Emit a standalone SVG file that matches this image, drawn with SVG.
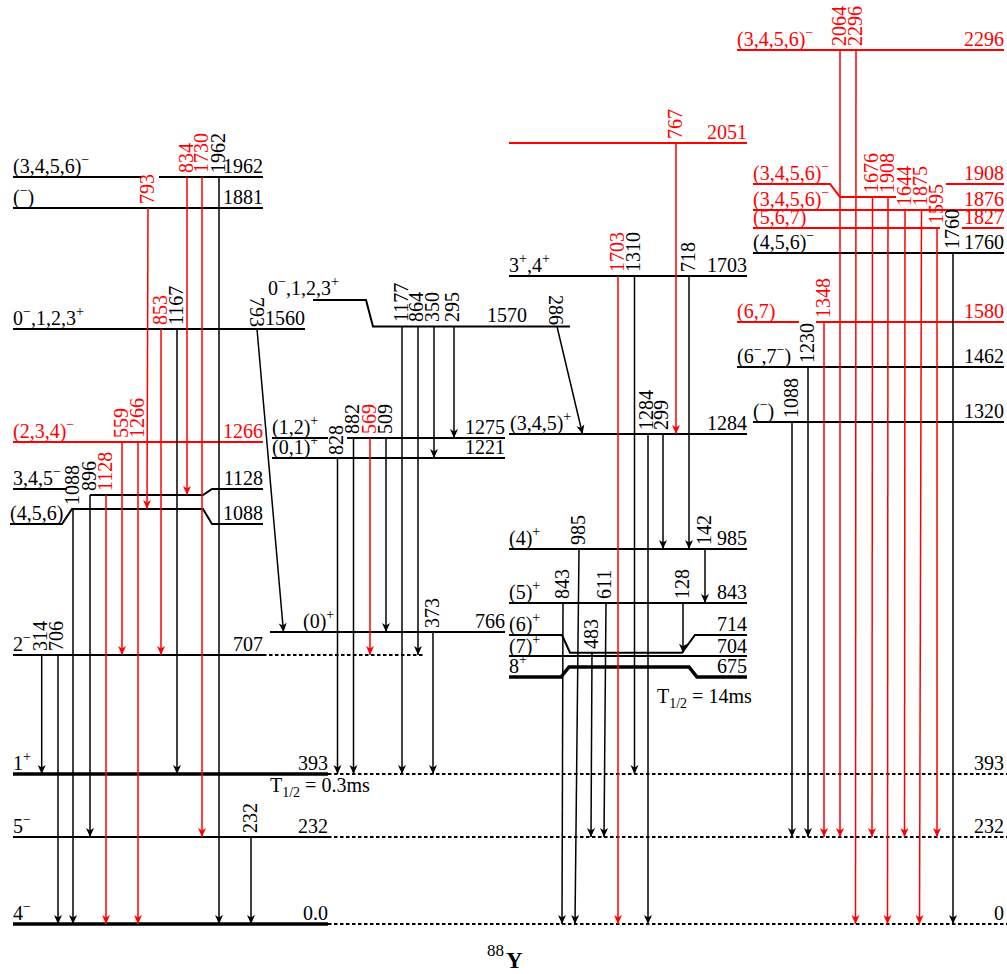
<svg xmlns="http://www.w3.org/2000/svg" width="1007" height="974" viewBox="0 0 1007 974">
<style>
.t{font-family:"Liberation Serif","Times New Roman",serif;font-size:20px;fill:#000}
.r{fill:#f00}
.s{font-size:14px}
.lv{stroke:#000;stroke-width:2;fill:none}
.lr{stroke:#f00}
.th{stroke-width:3.5}
.d{stroke:#000;stroke-width:1.8;stroke-dasharray:3.5 2.5;fill:none}
.g{stroke:#000;stroke-width:1.5;marker-end:url(#ab)}
.gr{stroke:#f00;stroke-width:1.5;marker-end:url(#ar)}
</style>
<defs>
<marker id="ab" viewBox="-10 -5 11 10" refX="0" refY="0" markerWidth="11" markerHeight="10" markerUnits="userSpaceOnUse" orient="auto"><path d="M0,0 L-9,-4 L-6.5,0 L-9,4 Z" fill="#000"/></marker>
<marker id="ar" viewBox="-10 -5 11 10" refX="0" refY="0" markerWidth="11" markerHeight="10" markerUnits="userSpaceOnUse" orient="auto"><path d="M0,0 L-9,-4 L-6.5,0 L-9,4 Z" fill="#f00"/></marker>
</defs>
<rect width="1007" height="974" fill="#fff"/>

<!-- Left column levels -->
<g id="lvl-1962"><path class="lv" d="M13,177H142M159,177H263"/><text class="t" x="13" y="173">(3,4,5,6)<tspan class="s" dy="-9">−</tspan></text><text class="t" x="263" y="173" text-anchor="end">1962</text></g>
<g id="lvl-1881"><path class="lv" d="M13,208H263"/><text class="t" x="13" y="204">(<tspan class="s" dy="-9">−</tspan><tspan dy="9">)</tspan></text><text class="t" x="263" y="204" text-anchor="end">1881</text></g>
<g id="lvl-1560"><path class="lv" d="M13,329H305"/><text class="t" x="13" y="325">0<tspan class="s" dy="-9">−</tspan><tspan dy="9">,1,2,3</tspan><tspan class="s" dy="-9">+</tspan></text><text class="t" x="305" y="325" text-anchor="end">1560</text></g>
<g id="lvl-1266"><path class="lv lr" d="M13,442H263"/><text class="t r" x="13" y="438">(2,3,4)<tspan class="s" dy="-9">−</tspan></text><text class="t r" x="263" y="438" text-anchor="end">1266</text></g>
<g id="lvl-1128"><path class="lv" d="M13,489H67M90,495H203L212,489H263"/><text class="t" x="13" y="485">3,4,5<tspan class="s" dy="-9">−</tspan></text><text class="t" x="263" y="485" text-anchor="end">1128</text></g>
<g id="lvl-1088"><path class="lv" d="M10,524H62L72,509H203L212,524H263"/><text class="t" x="10" y="520">(4,5,6)</text><text class="t" x="263" y="520" text-anchor="end">1088</text></g>
<g id="lvl-707"><path class="lv" d="M13,655H263"/><path class="d" d="M263,655H425"/><text class="t" x="13" y="651">2<tspan class="s" dy="-9">−</tspan></text><text class="t" x="263" y="651" text-anchor="end">707</text></g>
<g id="lvl-393"><path class="lv th" d="M13,774H328"/><path class="d" d="M328,774H1007"/><text class="t" x="13" y="770">1<tspan class="s" dy="-9">+</tspan></text><text class="t" x="328" y="770" text-anchor="end">393</text><text class="t" x="1004" y="770" text-anchor="end">393</text><text class="t" x="270" y="792">T<tspan class="s" dy="5">1/2</tspan><tspan dy="-5"> = 0.3ms</tspan></text></g>
<g id="lvl-232"><path class="lv" d="M13,837H328"/><path class="d" d="M328,837H1007"/><text class="t" x="13" y="833">5<tspan class="s" dy="-9">−</tspan></text><text class="t" x="328" y="833" text-anchor="end">232</text><text class="t" x="1004" y="833" text-anchor="end">232</text></g>
<g id="lvl-0"><path class="lv th" d="M13,924H328"/><path class="d" d="M328,924H1007"/><text class="t" x="13" y="920">4<tspan class="s" dy="-9">−</tspan></text><text class="t" x="328" y="920" text-anchor="end">0.0</text><text class="t" x="1004" y="920" text-anchor="end">0</text></g>

<!-- Middle column levels -->
<g id="lvl-1570"><path class="lv" d="M313,300H366L373,326.5H570"/><text class="t" x="268" y="295">0<tspan class="s" dy="-9">−</tspan><tspan dy="9">,1,2,3</tspan><tspan class="s" dy="-9">+</tspan></text><text class="t" x="527" y="322" text-anchor="end">1570</text></g>
<g id="lvl-1275"><path class="lv" d="M272,438H328M347,438H505"/><text class="t" x="272" y="434">(1,2)<tspan class="s" dy="-9">+</tspan></text><text class="t" x="505" y="434" text-anchor="end">1275</text></g>
<g id="lvl-1221"><path class="lv" d="M272,458H505"/><text class="t" x="272" y="454">(0,1)<tspan class="s" dy="-9">+</tspan></text><text class="t" x="505" y="454" text-anchor="end">1221</text></g>
<g id="lvl-766"><path class="lv" d="M270,632H505"/><text class="t" x="303" y="628">(0)<tspan class="s" dy="-9">+</tspan></text><text class="t" x="505" y="628" text-anchor="end">766</text></g>

<!-- Third column levels -->
<g id="lvl-2051"><path class="lv lr" d="M509,143H747"/><text class="t r" x="747" y="139" text-anchor="end">2051</text></g>
<g id="lvl-1703"><path class="lv" d="M509,276H747"/><text class="t" x="509" y="272">3<tspan class="s" dy="-9">+</tspan><tspan dy="9">,4</tspan><tspan class="s" dy="-9">+</tspan></text><text class="t" x="747" y="272" text-anchor="end">1703</text></g>
<g id="lvl-1284"><path class="lv" d="M509,434H747"/><text class="t" x="510" y="430">(3,4,5)<tspan class="s" dy="-9">+</tspan></text><text class="t" x="747" y="430" text-anchor="end">1284</text></g>
<g id="lvl-985"><path class="lv" d="M509,549H747"/><text class="t" x="509" y="545">(4)<tspan class="s" dy="-9">+</tspan></text><text class="t" x="747" y="545" text-anchor="end">985</text></g>
<g id="lvl-843"><path class="lv" d="M509,603H747"/><text class="t" x="509" y="599">(5)<tspan class="s" dy="-9">+</tspan></text><text class="t" x="747" y="599" text-anchor="end">843</text></g>
<g id="lvl-714"><path class="lv" d="M509,635H562L570,652.7H682L695,635H747"/><text class="t" x="509" y="631">(6)<tspan class="s" dy="-9">+</tspan></text><text class="t" x="747" y="631" text-anchor="end">714</text></g>
<g id="lvl-704"><path class="lv" d="M509,656H747"/><text class="t" x="509" y="653">(7)<tspan class="s" dy="-9">+</tspan></text><text class="t" x="747" y="653" text-anchor="end">704</text></g>
<g id="lvl-675"><path class="lv th" d="M509,677H561L569,667H689L697,677H747"/><text class="t" x="509" y="673">8<tspan class="s" dy="-9">+</tspan></text><text class="t" x="747" y="673" text-anchor="end">675</text><text class="t" x="657" y="703">T<tspan class="s" dy="5">1/2</tspan><tspan dy="-5"> = 14ms</tspan></text></g>

<!-- Right column levels -->
<g id="lvl-2296"><path class="lv lr" d="M737,50H1004"/><text class="t r" x="737" y="46">(3,4,5,6)<tspan class="s" dy="-9">−</tspan></text><text class="t r" x="1004" y="46" text-anchor="end">2296</text></g>
<g id="lvl-1908"><path class="lv lr" d="M753,184H830L840,197H896M946,184H1004"/><text class="t r" x="753" y="180">(3,4,5,6)<tspan class="s" dy="-9">−</tspan></text><text class="t r" x="1004" y="180" text-anchor="end">1908</text></g>
<g id="lvl-1876"><path class="lv lr" d="M753,210H1004"/><text class="t r" x="753" y="206">(3,4,5,6)<tspan class="s" dy="-9">−</tspan></text><text class="t r" x="1004" y="206" text-anchor="end">1876</text></g>
<g id="lvl-1827"><path class="lv lr" d="M753,228H940M962,228H1004"/><text class="t r" x="753" y="224">(5,6,7)</text><text class="t r" x="1004" y="224" text-anchor="end">1827</text></g>
<g id="lvl-1760"><path class="lv" d="M753,253H1004"/><text class="t" x="753" y="249">(4,5,6)<tspan class="s" dy="-9">−</tspan></text><text class="t" x="1004" y="249" text-anchor="end">1760</text></g>
<g id="lvl-1580"><path class="lv lr" d="M737,322H799M816,322H1004"/><text class="t r" x="737" y="318">(6,7)</text><text class="t r" x="1004" y="318" text-anchor="end">1580</text></g>
<g id="lvl-1462"><path class="lv" d="M737,367H1004"/><text class="t" x="737" y="363">(6<tspan class="s" dy="-9">−</tspan><tspan dy="9">,7</tspan><tspan class="s" dy="-9">−</tspan><tspan dy="9">)</tspan></text><text class="t" x="1004" y="363" text-anchor="end">1462</text></g>
<g id="lvl-1320"><path class="lv" d="M753,422H1004"/><text class="t" x="753" y="418">(<tspan class="s" dy="-9">−</tspan><tspan dy="9">)</tspan></text><text class="t" x="1004" y="418" text-anchor="end">1320</text></g>

<!-- Connectors -->
<g id="connectors">
<line class="gr" x1="148" y1="208" x2="147" y2="509"/><text class="t r" transform="translate(154,204) rotate(-90)">793</text>
<line class="gr" x1="187" y1="177" x2="187" y2="495"/><text class="t r" transform="translate(193,173) rotate(-90)">834</text>
<line class="gr" x1="202" y1="177" x2="202" y2="837"/><text class="t r" transform="translate(208,173) rotate(-90)">1730</text>
<line class="g" x1="219" y1="177" x2="219" y2="924"/><text class="t" transform="translate(225,173) rotate(-90)">1962</text>
<line class="gr" x1="161" y1="329" x2="161" y2="655"/><text class="t r" transform="translate(167,325) rotate(-90)">853</text>
<line class="g" x1="177" y1="329" x2="177" y2="774"/><text class="t" transform="translate(183,325) rotate(-90)">1167</text>
<line class="g" x1="257" y1="329" x2="283.5" y2="632"/><text class="t" transform="translate(250,297) rotate(90)">793</text>
<line class="gr" x1="122" y1="442" x2="122" y2="655"/><text class="t r" transform="translate(128,438) rotate(-90)">559</text>
<line class="gr" x1="138" y1="442" x2="138" y2="924"/><text class="t r" transform="translate(144,438) rotate(-90)">1266</text>
<line class="g" x1="73" y1="509" x2="73" y2="924"/><text class="t" transform="translate(79,505) rotate(-90)">1088</text>
<line class="g" x1="90" y1="495" x2="90" y2="837"/><text class="t" transform="translate(96,491) rotate(-90)">896</text>
<line class="gr" x1="106" y1="495" x2="106" y2="924"/><text class="t r" transform="translate(112,491) rotate(-90)">1128</text>
<line class="g" x1="41.7" y1="655" x2="41.7" y2="774"/><text class="t" transform="translate(47,651) rotate(-90)">314</text>
<line class="g" x1="58" y1="655" x2="58" y2="924"/><text class="t" transform="translate(63,651) rotate(-90)">706</text>
<line class="g" x1="251" y1="837" x2="251" y2="924"/><text class="t" transform="translate(257,833) rotate(-90)">232</text>

<line class="g" x1="402" y1="326.5" x2="402" y2="774"/><text class="t" transform="translate(408,322) rotate(-90)">1177</text>
<line class="g" x1="418" y1="326.5" x2="418" y2="655"/><text class="t" transform="translate(423,322) rotate(-90)">864</text>
<line class="g" x1="434" y1="326.5" x2="434" y2="458"/><text class="t" transform="translate(439,322) rotate(-90)">350</text>
<line class="g" x1="454" y1="326.5" x2="454" y2="438"/><text class="t" transform="translate(459,322) rotate(-90)">295</text>
<line class="g" x1="337.5" y1="458" x2="337.5" y2="774"/><text class="t" transform="translate(343,455) rotate(-90)">828</text>
<line class="g" x1="353.5" y1="438" x2="353.5" y2="774"/><text class="t" transform="translate(359,434) rotate(-90)">882</text>
<line class="gr" x1="370" y1="438" x2="370" y2="655"/><text class="t r" transform="translate(376,434) rotate(-90)">569</text>
<line class="g" x1="386" y1="438" x2="386" y2="632"/><text class="t" transform="translate(392,434) rotate(-90)">509</text>
<line class="g" x1="433" y1="632" x2="433" y2="774"/><text class="t" transform="translate(439,628) rotate(-90)">373</text>

<line class="gr" x1="676" y1="143" x2="676" y2="434"/><text class="t r" transform="translate(682,139) rotate(-90)">767</text>
<line class="gr" x1="618" y1="276" x2="618" y2="924"/><text class="t r" transform="translate(624,272) rotate(-90)">1703</text>
<line class="g" x1="634.5" y1="276" x2="634.5" y2="774"/><text class="t" transform="translate(640,272) rotate(-90)">1310</text>
<line class="g" x1="689" y1="276" x2="689" y2="549"/><text class="t" transform="translate(695,272) rotate(-90)">718</text>
<line class="g" x1="557" y1="326.5" x2="582.5" y2="434"/><text class="t" transform="translate(549,295) rotate(90)">286</text>
<line class="g" x1="648" y1="434" x2="648" y2="924"/><text class="t" transform="translate(653,430) rotate(-90)">1284</text>
<line class="g" x1="663" y1="434" x2="663" y2="549"/><text class="t" transform="translate(668,430) rotate(-90)">299</text>
<line class="g" x1="579" y1="549" x2="575" y2="924"/><text class="t" transform="translate(585,545) rotate(-90)">985</text>
<line class="g" x1="705" y1="549" x2="705" y2="603"/><text class="t" transform="translate(711,545) rotate(-90)">142</text>
<line class="g" x1="563" y1="603" x2="562" y2="924"/><text class="t" transform="translate(569,599) rotate(-90)">843</text>
<line class="g" x1="606" y1="603" x2="604" y2="837"/><text class="t" transform="translate(611,599) rotate(-90)">611</text>
<line class="g" x1="683" y1="603" x2="683" y2="652.7"/><text class="t" transform="translate(689,599) rotate(-90)">128</text>
<line class="g" x1="592" y1="652.7" x2="591" y2="837"/><text class="t" transform="translate(598,649) rotate(-90)">483</text>

<line class="gr" x1="840" y1="50" x2="840" y2="837"/><text class="t r" transform="translate(846,46) rotate(-90)">2064</text>
<line class="gr" x1="856" y1="50" x2="855.5" y2="924"/><text class="t r" transform="translate(862,46) rotate(-90)">2296</text>
<line class="gr" x1="872.5" y1="197" x2="872" y2="837"/><text class="t r" transform="translate(878,193) rotate(-90)">1676</text>
<line class="gr" x1="888" y1="197" x2="887.5" y2="924"/><text class="t r" transform="translate(894,193) rotate(-90)">1908</text>
<line class="gr" x1="905" y1="210" x2="904.5" y2="837"/><text class="t r" transform="translate(911,206) rotate(-90)">1644</text>
<line class="gr" x1="921.5" y1="210" x2="919.5" y2="924"/><text class="t r" transform="translate(927,206) rotate(-90)">1875</text>
<line class="gr" x1="937" y1="228" x2="937" y2="837"/><text class="t r" transform="translate(943,224) rotate(-90)">1595</text>
<line class="g" x1="953" y1="253" x2="953" y2="924"/><text class="t" transform="translate(959,249) rotate(-90)">1760</text>
<line class="gr" x1="824" y1="322" x2="824" y2="837"/><text class="t r" transform="translate(830,318) rotate(-90)">1348</text>
<line class="g" x1="808" y1="367" x2="808" y2="837"/><text class="t" transform="translate(814,363) rotate(-90)">1230</text>
<line class="g" x1="792" y1="422" x2="792" y2="837"/><text class="t" transform="translate(798,418) rotate(-90)">1088</text>
</g>

<g id="title"><text class="t" x="487" y="956" style="font-size:17px">88</text><text class="t" x="506" y="968" style="font-size:23px;font-weight:bold">Y</text></g>
</svg>
